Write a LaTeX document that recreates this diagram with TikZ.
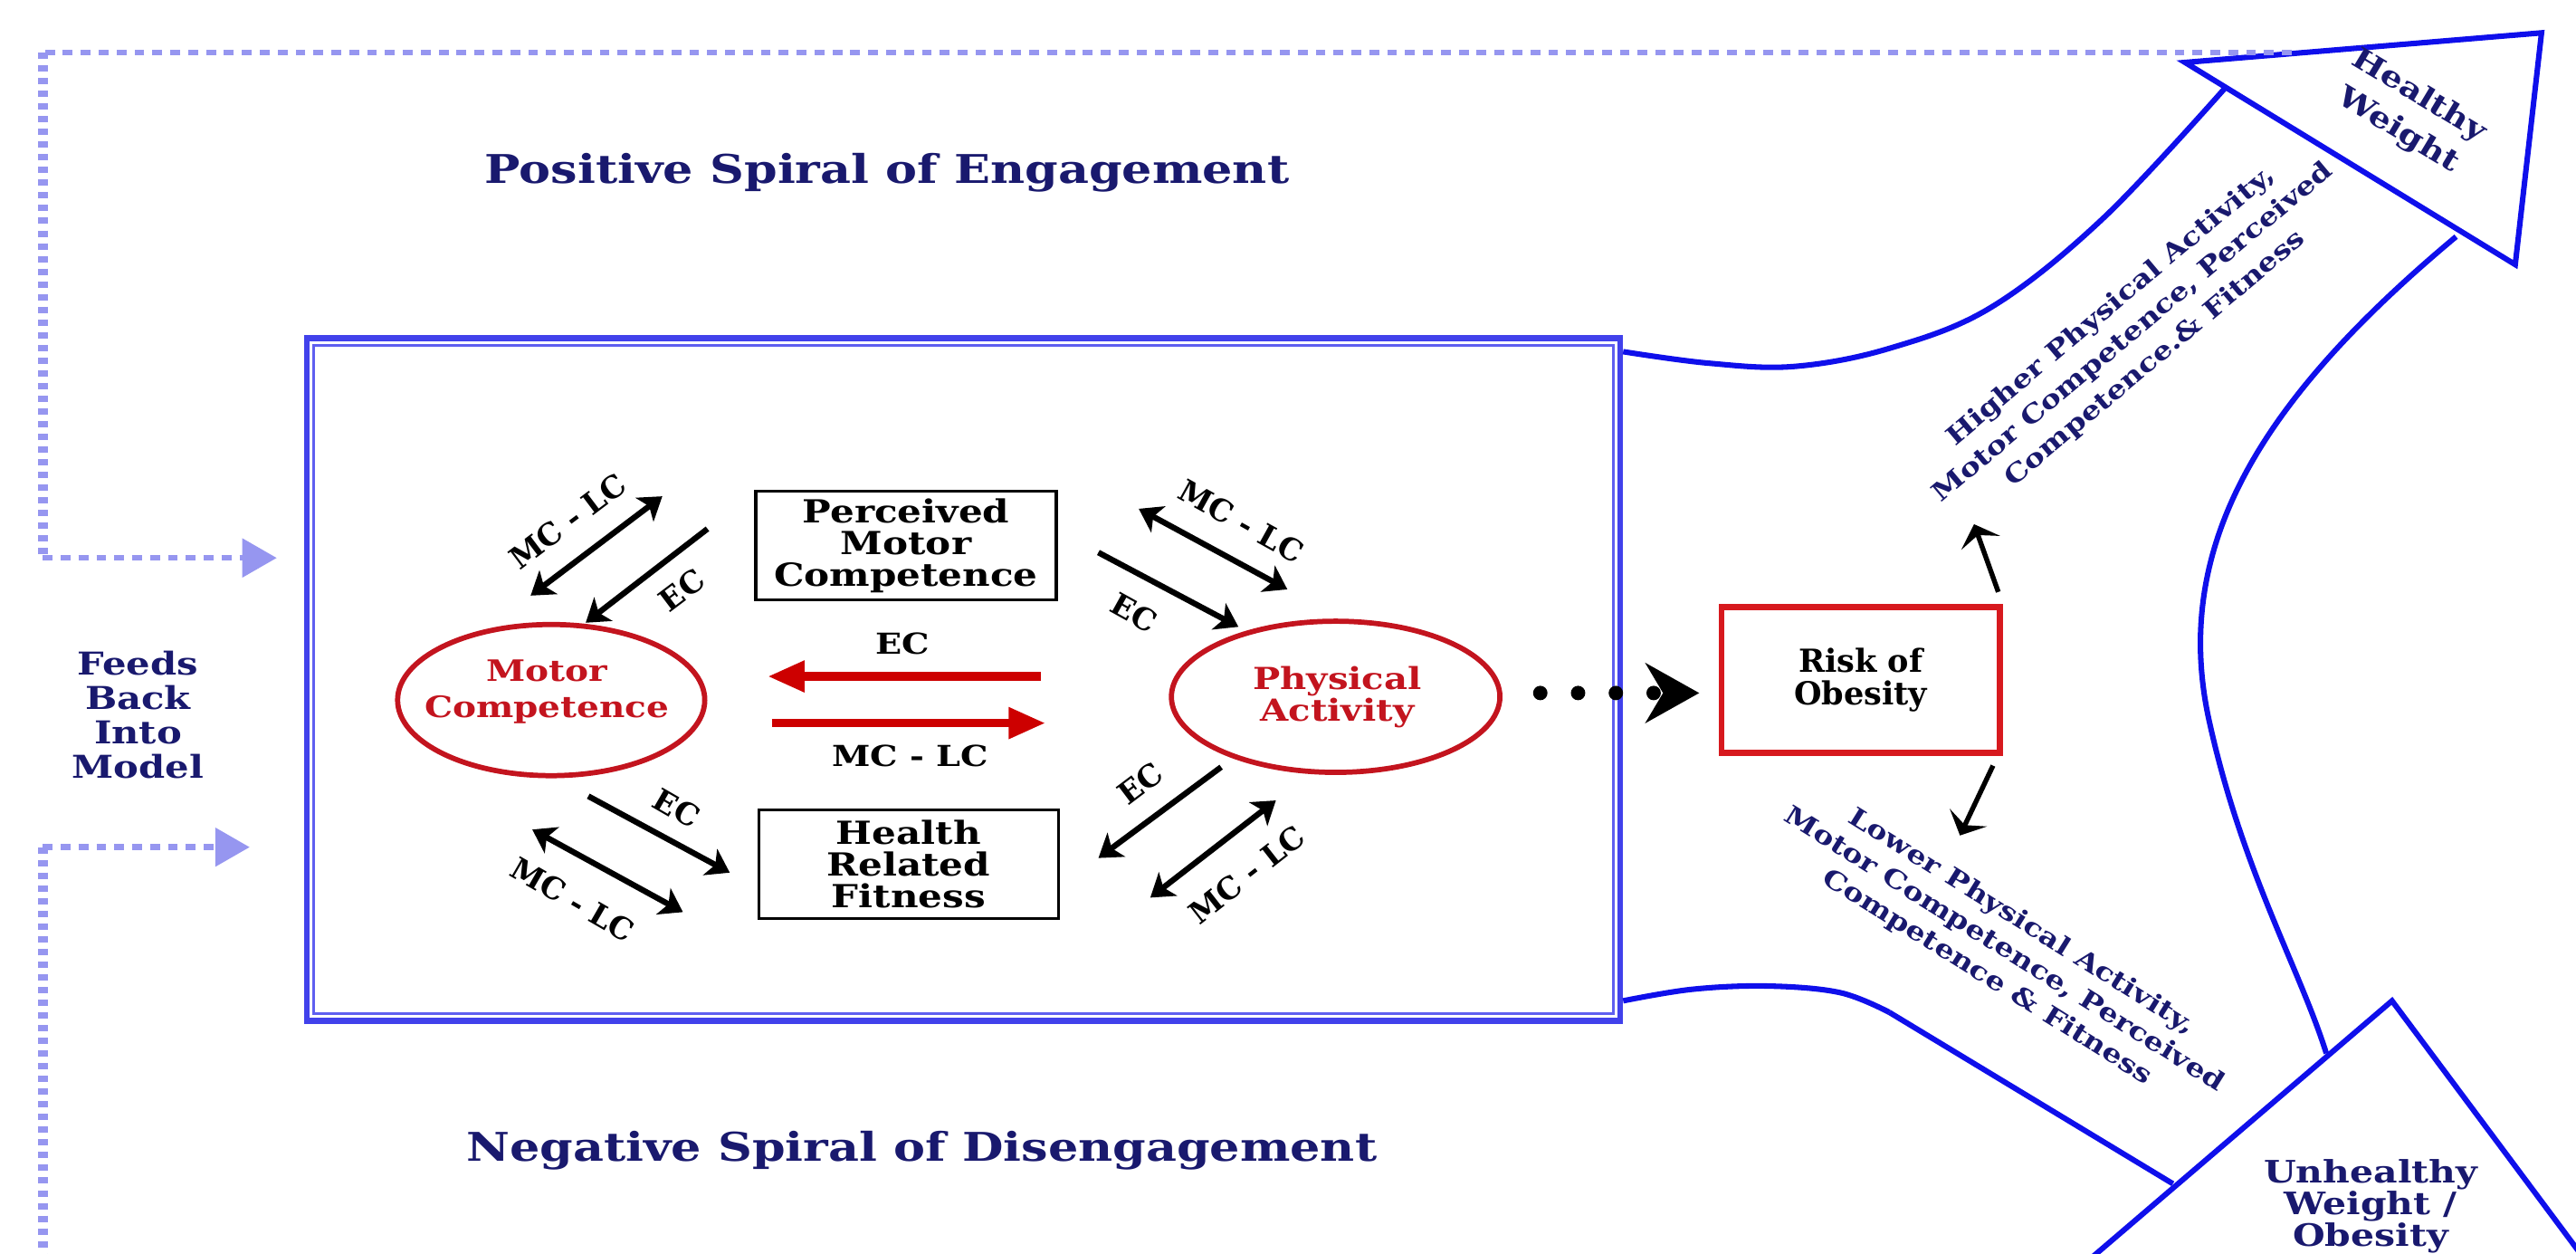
\documentclass[tikz,border=0pt]{standalone}
\usepackage{fontspec}
\setmainfont{DejaVu Serif}
\usepackage{graphicx}
\usetikzlibrary{arrows.meta,shapes.geometric}
\definecolor{navy}{RGB}{25,25,110}
\definecolor{dred}{RGB}{195,20,30}
\definecolor{rbox}{RGB}{215,25,30}
\definecolor{rarrow}{RGB}{205,0,0}
\definecolor{bblue}{RGB}{15,15,235}
\definecolor{boxblue}{RGB}{65,65,235}
\definecolor{boxblue2}{RGB}{95,95,240}
\definecolor{lav}{RGB}{150,150,240}
\newcommand\sx[1]{\scalebox{1.2}[1]{#1}}
\newcommand\fs[2]{\fontsize{#1}{#2}\selectfont\bfseries}
\begin{document}
\begin{tikzpicture}[x=0.02cm,y=-0.02cm,
  lbl/.style={font=\fs{10.5}{12}, inner sep=0pt},
  barr/.style={line width=2pt,-{Stealth[length=0.27cm,width=0.36cm,inset=0.07cm]}},
  dbarr/.style={line width=2pt,{Stealth[length=0.27cm,width=0.36cm,inset=0.07cm]}-{Stealth[length=0.27cm,width=0.36cm,inset=0.07cm]}},
  rarr/.style={draw=rarrow,line width=3pt,-{Triangle[length=0.45cm,width=0.36cm]}},
  bx/.style={draw,line width=1pt,inner sep=0pt,align=center,font=\fs{11}{11}},
  ell/.style={ellipse,draw=dred,line width=1.8pt,inner sep=0pt},
  redtxt/.style={text=dred,align=center,inner sep=0pt},
  bline/.style={draw=bblue,line width=1.9pt,line join=miter},
  fbh/.style={draw=lav,line width=2pt,dash pattern=on 3.4pt off 2.8pt},
  fbv/.style={draw=lav,line width=3.4pt,dash pattern=on 2.2pt off 2.2pt},
  fbtip/.style={-{Triangle[length=0.42cm,width=0.46cm]}},
  navytxt/.style={text=navy,align=center,inner sep=0pt},
  outarr/.style={line width=1.7pt,-{Stealth[length=0.24cm,width=0.5cm,inset=0.1cm]}},
]
\useasboundingbox (0,0) rectangle (1568,763);
\clip (0,0) rectangle (1568,763);

% headings
\node[navytxt,font=\fs{13.7}{16}] (pos) at (540,105) {\sx{Positive Spiral of Engagement}};
\node[navytxt,font=\fs{13.7}{16}] (neg) at (561,700) {\sx{Negative Spiral of Disengagement}};
\node[navytxt,font=\fs{10.9}{11.9}] (feeds) at (84,435) {\sx{Feeds}\\\sx{Back}\\\sx{Into}\\\sx{Model}};

% main box
\node[draw=boxblue,line width=0.07cm,minimum width=15.99cm,minimum height=8.31cm,inner sep=0pt] (mainbox) at (586.5,413.5) {};
\draw[draw=boxblue2,line width=0.036cm] ([shift={(6,6)}]mainbox.north west) rectangle ([shift={(-6,-6)}]mainbox.south east);

% nodes
\node[ell,minimum width=3.74cm,minimum height=1.84cm] (MC) at (335.5,426) {};
\node[redtxt,font=\fs{10.2}{12.3}] (MCt) at (333,421) {\sx{Motor}\\\sx{Competence}};
\node[ell,minimum width=4cm,minimum height=1.84cm] (PA) at (813,424) {};
\node[redtxt,font=\fs{10.5}{11}] (PAt) at (814,424) {\sx{Physical}\\\sx{Activity}};
\node[bx,minimum width=3.66cm,minimum height=1.32cm] (PMC) at (551.5,332) {\sx{Perceived}\\\sx{Motor}\\\sx{Competence}};
\node[bx,minimum width=3.65cm,minimum height=1.32cm] (HRF) at (553,526) {\sx{Health}\\\sx{Related}\\\sx{Fitness}};
\node[draw=rbox,line width=2.1pt,minimum width=3.39cm,minimum height=1.77cm,inner sep=0pt,align=center,font=\fs{11}{11.3}] (Risk) at (1132.6,413.7) {Risk of\\Obesity};

% red arrows
\draw[rarr] ([shift={(-78.1,-12.4)}]PA.west) -- ([shift={(36.7,-14.4)}]MC.east);
\draw[rarr] ([shift={(39.2,14)}]MC.east) -- ([shift={(-75,16)}]PA.west);
\node[lbl,font=\fs{10}{12}] (ecmid) at (549.5,391.9) {\sx{EC}};
\node[lbl,font=\fs{10}{12}] (mcmid) at (554.2,460.2) {\sx{MC - LC}};

% black diagonal arrows
\draw[dbarr] ([shift={(-56,-30)}]PMC.west) -- ([shift={(-12.5,-16)}]MC.north);
\draw[barr] ([shift={(-28.5,-10.2)}]PMC.west) -- ([shift={(21,0.5)}]MC.north);
\draw[barr] ([shift={(22.6,10.9)}]MC.south) -- ([shift={(-16.7,5)}]HRF.west);
\draw[dbarr] ([shift={(-11.5,31.2)}]MC.south) -- ([shift={(-45.2,29)}]HRF.west);
\draw[dbarr] ([shift={(49.3,-22.4)}]PMC.east) -- ([shift={(-29.4,-17.8)}]PA.north);
\draw[barr] ([shift={(24.7,4.2)}]PMC.east) -- ([shift={(-59.2,5)}]PA.north);
\draw[barr] ([shift={(-69.7,-4.8)}]PA.south) -- ([shift={(23.5,-3.9)}]HRF.east);
\draw[dbarr] ([shift={(-36.4,15.5)}]PA.south) -- ([shift={(55.1,20.2)}]HRF.east);

% diagonal labels
\node[lbl,rotate=37] (t1) at (345.5,317.2) {MC - LC};
\node[lbl,rotate=37] (t2) at (415,359) {EC};
\node[lbl,rotate=-30] (t3) at (411.9,491.8) {EC};
\node[lbl,rotate=-30] (t4) at (348.6,547.4) {MC - LC};
\node[lbl,rotate=-29] (t5) at (755.5,317.2) {MC - LC};
\node[lbl,rotate=-29] (t6) at (690.5,372.9) {EC};
\node[lbl,rotate=37] (t7) at (694,476.6) {EC};
\node[lbl,rotate=38] (t8) at (759,532.2) {MC - LC};

% dotted connector to risk
\draw[line width=5pt,line cap=round,dash pattern=on 0pt off 0.46cm,shorten <=0.46cm,
  -{Stealth[length=0.66cm,width=0.74cm,inset=0.22cm,line width=0pt]}]
  ([shift={(0,-2.3)}]PA.east) -- ([shift={(-11.75,8)}]Risk.west);

% risk outcome arrows
\coordinate (hiTip) at (1201.6,319);
\coordinate (loTip) at (1193,508.4);
\draw[outarr] ([shift={(-2.85,-7.4)}]Risk.north east) -- (hiTip);
\draw[outarr] ([shift={(-6.05,6.1)}]Risk.south east) -- (loTip);

% big blue spiral arrows
\draw[bline] (1330,38) -- (1547,20) -- (1531,161) -- cycle;
\draw[bline] plot[smooth,tension=0.6] coordinates {(988,214) (1040,221) (1092,223) (1150,212) (1212,187) (1280,133) (1354,54)};
\draw[bline] (1495,144) .. controls (1380,240) and (1320,330) .. (1345,440) .. controls (1365,530) and (1400,590) .. (1416,641);
\draw[bline] (1270,768) -- (1456,609) -- (1576,770);
\draw[bline] plot[smooth,tension=0.6] coordinates {(988,609) (1030,602) (1076,600) (1120,604) (1150,616)};
\draw[bline] (1150,616) -- (1322.6,720.3);

% texts on the spiral
\node[navytxt,rotate=40,font=\fs{8.8}{11.9}] (hi) at (1298.5,202.5) {\sx{Higher Physical Activity,}\\\sx{Motor Competence, Perceived}\\\sx{Competence.\& Fitness}};
\node[navytxt,rotate=-32,font=\fs{8.8}{11.3}] (lo) at (1220,578) {\sx{Lower Physical Activity,}\\\sx{Motor Competence, Perceived}\\\sx{Competence \& Fitness}};
\node[navytxt,rotate=-31,font=\fs{10}{14}] (hw) at (1466,69) {\sx{Healthy}\\\sx{Weight}};
\node[navytxt,font=\fs{10.7}{11}] (uw) at (1443,734) {\sx{Unhealthy}\\\sx{Weight /}\\\sx{Obesity}};

% feedback dashed lines
\coordinate (fbTop) at (1395,32);
\coordinate (fbC1) at (26,32);
\coordinate (fbC2) at (26,339.5);
\coordinate (fbA) at (168.5,339.5);
\coordinate (fbC3) at (26,515.5);
\coordinate (fbB) at (152,515.5);
\coordinate (fbC4) at (26,775);
\draw[fbh] (fbTop) -- (fbC1);
\draw[fbv] (fbC1) -- (fbC2);
\draw[fbh,fbtip] (fbC2) -- (fbA);
\draw[fbh,fbtip] (fbC3) -- (fbB);
\draw[fbv] (fbC3) -- (fbC4);
\end{tikzpicture}
\end{document}
